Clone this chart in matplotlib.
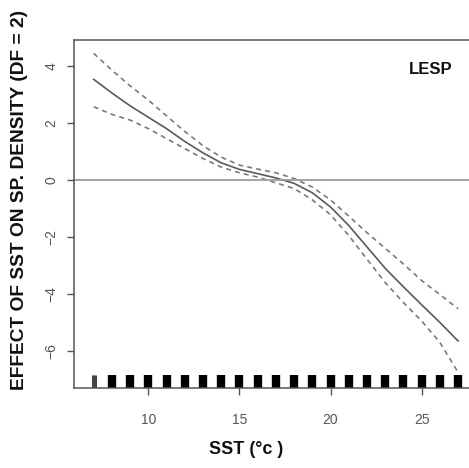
import numpy as np
import matplotlib
matplotlib.use('Agg')
from matplotlib import pyplot as plt

plt.rcParams['font.family'] = ['Liberation Sans', 'DejaVu Sans']

# Smooth term for SST (GAM, df = 2) and its two-standard-error band
sst = [7, 8, 9, 10, 11, 12, 13, 14, 15, 16, 17, 18, 19, 20, 21, 22, 23, 24, 25, 26, 27]
effect = [3.53, 3.05, 2.6, 2.2, 1.8, 1.35, 0.95, 0.6, 0.37, 0.22, 0.07, -0.12,
          -0.45, -0.95, -1.6, -2.35, -3.1, -3.75, -4.38, -5.0, -5.65]
upper = [4.44, 3.85, 3.3, 2.8, 2.25, 1.7, 1.2, 0.8, 0.52, 0.38, 0.25, 0.05,
         -0.25, -0.7, -1.27, -1.85, -2.4, -2.95, -3.53, -4.02, -4.52]
lower = [2.57, 2.3, 2.1, 1.8, 1.45, 1.1, 0.75, 0.45, 0.25, 0.1, -0.1, -0.3,
         -0.7, -1.22, -1.95, -2.78, -3.6, -4.3, -4.95, -5.7, -6.75]

# Observed SST values shown as a rug
rug_sst = [6.95, 7.05, 8, 9, 10, 11, 12, 13, 14, 15, 16, 17, 18, 19, 20,
           21, 22, 23, 24, 25, 26, 27]

xticks = [10, 15, 20, 25]
yticks = [-6, -4, -2, 0, 2, 4]

fig = plt.figure(figsize=(4.69, 4.68), dpi=100)
ax = fig.add_axes([74 / 469, 1 - 387.7 / 468, 1 - 74 / 469, 347.7 / 468])

ax.plot(sst, effect, color='#5a5a5a', lw=1.2)
ax.plot(sst, upper, color='#7a7a7a', lw=1.2, ls=(0, (3, 2.5)))
ax.plot(sst, lower, color='#7a7a7a', lw=1.2, ls=(0, (3, 2.5)))
ax.axhline(0, color='#a09a9a', lw=1.3)

# rug marks on the bottom axis
ymin, ymax = -7.29, 4.91
for x in rug_sst:
    if x < 7.5:
        ax.vlines(x, ymin, ymin + 0.44, color='#444444', lw=2.2)
    else:
        ax.vlines(x, ymin, ymin + 0.44, color='black', lw=6.0)

ax.text(25.5, 3.86, 'LESP', fontsize=12, fontweight='bold', ha='center',
        va='center', color='#111111')

ax.set_xlim(5.92, 27.6)
ax.set_ylim(ymin, ymax)
ax.set_xticks(xticks)
ax.set_yticks(yticks)
ax.tick_params(axis='both', direction='out', length=5, width=1, colors='#555555',
               labelsize=10, labelcolor='#555555')
ax.tick_params(axis='x', pad=13)
ax.tick_params(axis='y', pad=6)
for lab in ax.get_yticklabels():
    lab.set_rotation(90)
    lab.set_va('center')

for side in ['left', 'top', 'bottom']:
    ax.spines[side].set_color('#555555')
    ax.spines[side].set_linewidth(1.1)
ax.spines['right'].set_visible(False)

fig.text(246 / 469, 1 - 450 / 468, 'SST (°c )', fontsize=13, fontweight='bold',
         ha='center', va='center', color='#111111')
fig.text(20 / 469, 1 - 200 / 468, 'EFFECT OF SST ON SP. DENSITY (DF = 2)',
         fontsize=13.8, fontweight='bold', rotation=90, ha='center', va='center',
         color='#111111')

fig.savefig('out.png', dpi=100, facecolor='white')
